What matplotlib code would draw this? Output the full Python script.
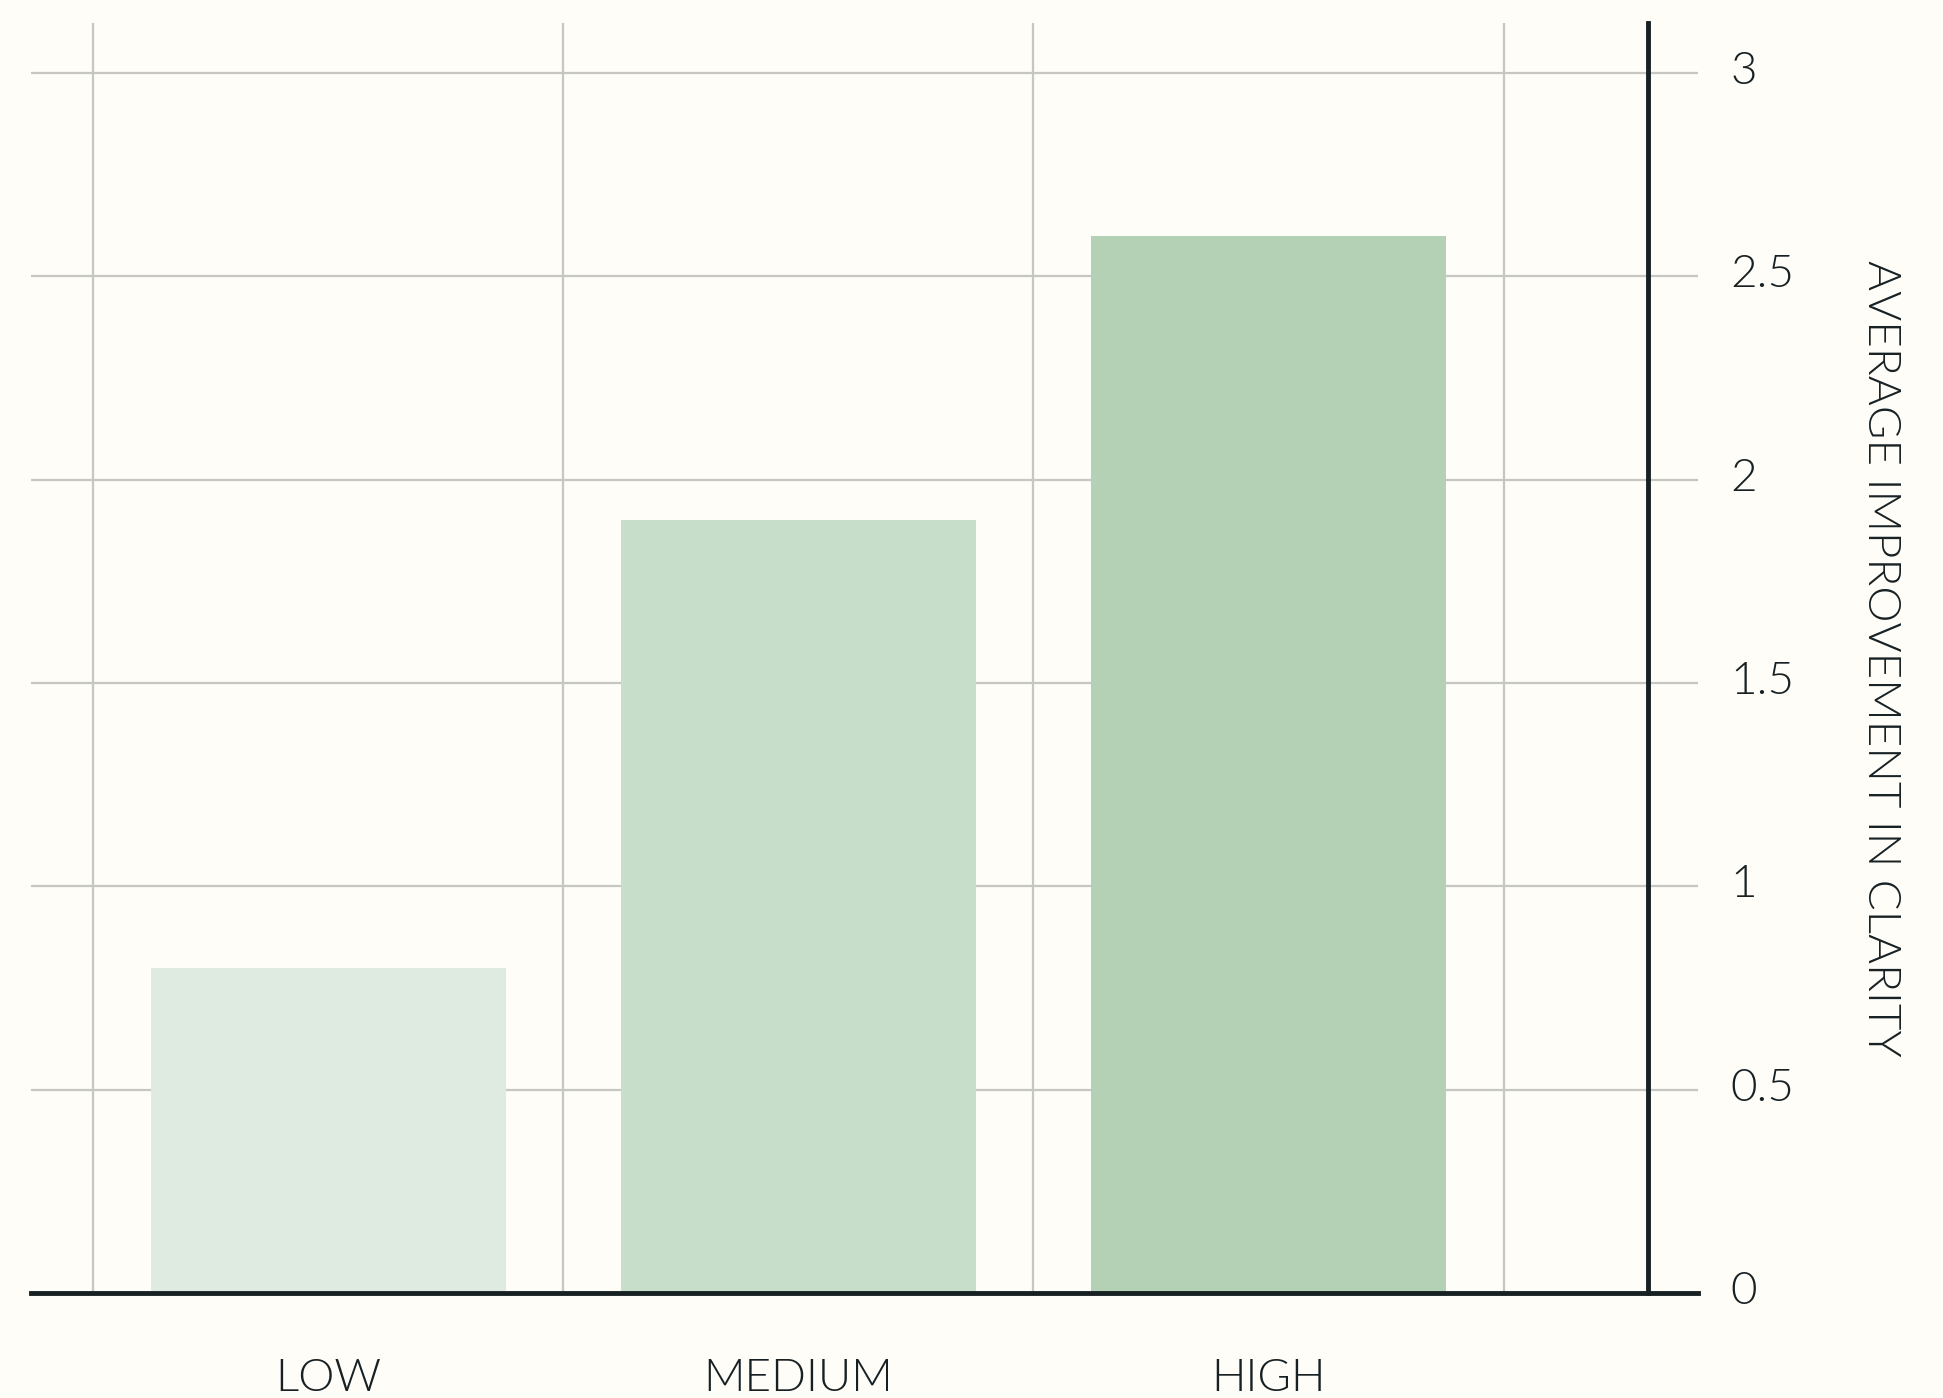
import matplotlib
matplotlib.use("Agg")
import matplotlib.pyplot as plt
import matplotlib.transforms as mtransforms
import numpy as np

categories = ["LOW", "MEDIUM", "HIGH"]
values = [0.8, 1.9, 2.6]
bar_colors = ["#dfeae0", "#c7deca", "#b4d1b5"]
yticks = [0, 0.5, 1, 1.5, 2, 2.5, 3]
ytick_labels = ["0", "0.5", "1", "1.5", "2", "2.5", "3"]
ylabel = "AVERAGE IMPROVEMENT IN CLARITY"

bg = "#fefdf8"
ink = "#172023"
grid_c = "#c6c7c3"

plt.rcParams["font.family"] = ["Lato", "DejaVu Sans"]
plt.rcParams["font.weight"] = 300
plt.rcParams["axes.labelweight"] = 300

fig = plt.figure(figsize=(19.43, 13.98), dpi=100, facecolor=bg)
ax = fig.add_axes([0.016, 0.0751, 0.858, 0.9084], facecolor=bg)

x = np.arange(len(categories))
ax.bar(x, values, width=0.755, color=bar_colors, zorder=3)

ax.set_xlim(-0.632, 2.914)
ax.set_ylim(0, 3.123)

# grid: horizontal at y ticks, vertical at category boundaries
ax.set_yticks(yticks)
ax.set_yticklabels(ytick_labels)
ax.set_xticks(x)
ax.set_xticklabels(categories)
ax.set_xticks(np.arange(-0.5, len(categories) + 0.5, 1), minor=True)
ax.grid(True, which="major", axis="y", color=grid_c, lw=1.6, zorder=1)
ax.grid(True, which="minor", axis="x", color=grid_c, lw=1.6, zorder=1)

for s in ax.spines.values():
    s.set_visible(False)
ax.axhline(0, color=ink, lw=3.5, zorder=4, clip_on=False)
ax.axvline(2.807, color=ink, lw=3.5, zorder=4, clip_on=False)

ax.yaxis.tick_right()
ax.yaxis.set_label_position("right")
ax.tick_params(axis="both", which="both", length=0, labelsize=33, labelcolor=ink)
ax.tick_params(axis="y", pad=23)
ax.tick_params(axis="x", pad=47)
ax.set_ylabel(ylabel, rotation=-90, fontsize=33, color=ink, labelpad=47, va="bottom")

shift = mtransforms.ScaledTranslation(0, 4 / 72, fig.dpi_scale_trans)
for lbl in ax.get_yticklabels():
    lbl.set_transform(lbl.get_transform() + shift)

fig.savefig("out.png", dpi=100, facecolor=bg)
